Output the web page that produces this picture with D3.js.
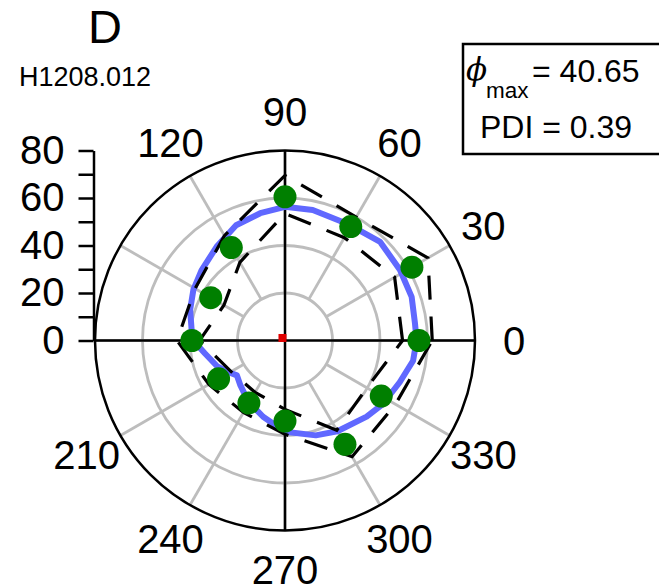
<!DOCTYPE html>
<html>
<head>
<meta charset="utf-8">
<script src="https://cdn.jsdelivr.net/npm/d3@7"></script>
<style>
  body { margin: 0; background: #fff; }
  svg { display: block; font-family: Arial, 'Liberation Sans', sans-serif; }
</style>
</head>
<body>
<svg id="chart" width="659" height="586"></svg>
<script>
// direction tuning data, angles in degrees (counter-clockwise from east)
const angles = [0, 30, 60, 90, 120, 150, 180, 210, 240, 270, 300, 330];
const meanResp = [56.4, 61.7, 55.4, 60.5, 45.2, 36.1, 39.2, 32.3, 30.4, 33.9, 50.5, 46.8];
const upperResp = [62, 69.5, 60, 69.5, 51, 43.7, 45.5, 37, 35, 39.5, 56.5, 53.7];
const lowerResp = [49.5, 53.3, 50, 53.5, 38, 29.7, 36, 26.2, 25.2, 29, 43.6, 39.8];

// fitted curve
const fitAngles = [0, 7.5, 19, 31.5, 46, 62, 78, 90, 101, 113, 126, 140, 151, 162, 174,
  180, 189, 201, 208, 216, 225, 239, 254, 270, 288, 300, 317, 327, 340, 351];
const fitResp = [55.4, 55.2, 56.4, 56.8, 57.7, 55.7, 56.2, 56.3, 54.6, 52.7, 48.9, 45.9, 44.1, 42, 39.5,
  38.6, 34.2, 30.5, 27.8, 25, 26.6, 30, 33.4, 38.4, 42, 44.1, 47, 49.1, 51.4, 54.6];

const gridRings = [20, 40, 60];
const radialTicks = [0, 10, 20, 30, 40, 50, 60, 70, 80];
const angleLabels = [0, 30, 60, 90, 120, 210, 240, 270, 300, 330];
const centerMark = { angle: 135, value: 1.5 };

const panelLabel = 'D';
const cellName = 'H1208.012';
const phiMax = '40.65';
const pdi = '0.39';

const cx = 285, cy = 340.5, R = 190;
const vis = d3.select('#chart');

const rScale = d3.scaleLinear().domain([0, 80]).range([0, R]);
const toRad = a => (a * Math.PI) / 180;
const px = (a, v) => cx + rScale(v) * Math.cos(toRad(a));
const py = (a, v) => cy - rScale(v) * Math.sin(toRad(a));

// gray grid
const grid = vis.append('g').attr('stroke', '#bdbdbd').attr('stroke-width', 2.8).attr('fill', 'none');
grid.selectAll('circle').data(gridRings).join('circle')
  .attr('cx', cx).attr('cy', cy).attr('r', d => rScale(d));
grid.selectAll('line').data(angles).join('line')
  .attr('x1', d => px(d, 20)).attr('y1', d => py(d, 20))
  .attr('x2', d => px(d, 80)).attr('y2', d => py(d, 80));

// black outer ring + cross
vis.append('circle').attr('cx', cx).attr('cy', cy).attr('r', rScale(80))
  .attr('fill', 'none').attr('stroke', '#000').attr('stroke-width', 2.5);
vis.append('line')
  .attr('x1', px(180, 80)).attr('y1', cy).attr('x2', px(0, 80)).attr('y2', cy)
  .attr('stroke', '#000').attr('stroke-width', 2.5);
vis.append('line')
  .attr('x1', cx).attr('y1', py(90, 80)).attr('x2', cx).attr('y2', py(270, 80))
  .attr('stroke', '#000').attr('stroke-width', 2.5);

// radial axis on the left
const yScale = d3.scaleLinear().domain([0, 80]).range([cy, cy - R]);
const yAxis = d3.axisLeft(yScale)
  .tickValues(radialTicks)
  .tickFormat(d => (d % 20 === 0 ? d : ''))
  .tickSize(15)
  .tickPadding(14)
  .tickSizeOuter(0);
const ya = vis.append('g')
  .attr('transform', 'translate(' + (cx - R - 1.5) + ',0)')
  .call(yAxis);
ya.select('.domain').attr('stroke-width', 2.5);
ya.selectAll('.tick line').attr('stroke-width', 2.5);
ya.selectAll('.tick text').attr('font-size', 40).attr('font-family', 'Arial, Liberation Sans, sans-serif').attr('fill', '#000');

// angle labels
vis.append('g').selectAll('text').data(angleLabels).join('text')
  .attr('x', d => cx + 229 * Math.cos(toRad(d)))
  .attr('y', d => cy - 229 * Math.sin(toRad(d)))
  .attr('dy', '0.36em')
  .attr('text-anchor', 'middle')
  .attr('font-size', 40)
  .text(d => d);

// fitted curve
const radial = d3.lineRadial()
  .angle(d => toRad(90 - d[0]))
  .radius(d => rScale(d[1]))
  .curve(d3.curveLinearClosed);

const plot = vis.append('g').attr('transform', 'translate(' + cx + ',' + cy + ')');
plot.append('path')
  .attr('d', radial(fitAngles.map((a, i) => [a, fitResp[i]])))
  .attr('fill', 'none').attr('stroke', '#6068ff').attr('stroke-width', 6)
  .attr('stroke-linejoin', 'round');

// error bounds
[upperResp, lowerResp].forEach(vals => {
  plot.append('path')
    .attr('d', radial(angles.map((a, i) => [a, vals[i]])))
    .attr('fill', 'none').attr('stroke', '#000').attr('stroke-width', 3.2)
    .attr('stroke-dasharray', '24,17');
});

// mean responses
vis.append('g').selectAll('circle').data(angles).join('circle')
  .attr('cx', (d, i) => px(d, meanResp[i]))
  .attr('cy', (d, i) => py(d, meanResp[i]))
  .attr('r', 11.5)
  .attr('fill', '#007f00');

// vector sum marker
vis.append('rect')
  .attr('x', px(centerMark.angle, centerMark.value) - 4)
  .attr('y', py(centerMark.angle, centerMark.value) - 4)
  .attr('width', 8).attr('height', 8)
  .attr('fill', '#e00000');

// titles
vis.append('text').attr('x', 88).attr('y', 43).attr('font-size', 47).text(panelLabel);
vis.append('text').attr('x', 19).attr('y', 86).attr('font-size', 27).text(cellName);

// stats box
vis.append('rect').attr('x', 463).attr('y', 44).attr('width', 260).attr('height', 110)
  .attr('fill', '#fff').attr('stroke', '#000').attr('stroke-width', 2.5);
vis.append('text').attr('x', 466).attr('y', 80)
  .attr('font-family', 'DejaVu Serif, serif').attr('font-style', 'italic').attr('font-size', 31)
  .text('\u03D5');
vis.append('text').attr('x', 486).attr('y', 98).attr('font-size', 22.5).text('max');
vis.append('text').attr('x', 532).attr('y', 82).attr('font-size', 32).text('= ' + phiMax);
vis.append('text').attr('x', 480).attr('y', 138).attr('font-size', 32).text('PDI = ' + pdi);
</script>
</body>
</html>
